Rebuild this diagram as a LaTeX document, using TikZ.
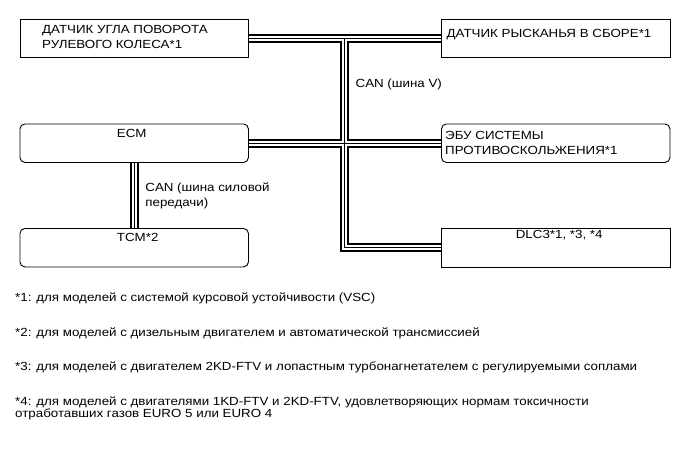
\documentclass[tikz,border=0pt]{standalone}
\usepackage{fontspec}
\setmainfont{Liberation Sans}[FakeStretch=1.13]
\usetikzlibrary{positioning,calc}

\begin{document}
\begin{tikzpicture}[
    x=1pt, y=-1pt,
    every node/.style={inner sep=0pt},
    unit/.style={
        rectangle, draw=black, line width=0.9pt,
        minimum width=228.5pt, minimum height=38.5pt
    },
    ecu/.style={unit, rounded corners=5pt},
    lbl/.style={align=left, font=\fontsize{11.8}{15}\selectfont},
    note/.style={align=left, font=\fontsize{11.8}{12}\selectfont},
    bus/.style={
        draw=black, line width=9pt,
        postaction={draw=white, line width=5pt},
        postaction={draw=black, line width=1pt}
    }
]
\useasboundingbox (0,0) rectangle (691,467);

% блоки
\node[unit, anchor=north west] (steer) at (19.5,18.5) {};
\node[ecu, anchor=north west] (ecm) at (19.5,123.5) {};
\node[ecu, anchor=north west] (tcm) at (19.5,228) {};
\node[unit, anchor=north west] (yaw) at (441,18.5) {};
\node[ecu, anchor=north west] (abs) at (441,123.5) {};
\node[unit, anchor=north west] (dlc) at (441,228) {};

% шины CAN
\coordinate (bustop) at ($(steer.east)!0.5!(yaw.west)$);
\draw[bus] (steer.east) -- (yaw.west)
    (ecm.east) -- (abs.west)
    (bustop) |- (dlc.west);
\draw[bus] (ecm.south) -- (tcm.north);

% надписи блоков (base = последняя строка)
\node[lbl, anchor=base west] (steertxt) at ([xshift=22.5pt,yshift=-30pt]steer.north west)
    {ДАТЧИК УГЛА ПОВОРОТА\\РУЛЕВОГО КОЛЕСА*1};
\node[lbl, anchor=base] (ecmtxt) at ([xshift=-2.5pt,yshift=-14pt]ecm.north) {ECM};
\node[lbl, anchor=base] (tcmtxt) at ([xshift=3.5pt,yshift=-13pt]tcm.north) {TCM*2};
\node[lbl, anchor=base west] (yawtxt) at ([xshift=5.5pt,yshift=-18.5pt]yaw.north west)
    {ДАТЧИК РЫСКАНЬЯ В СБОРЕ*1};
\node[lbl, anchor=base west] (abstxt) at ([xshift=4pt,yshift=-30.5pt]abs.north west)
    {ЭБУ СИСТЕМЫ\\ПРОТИВОСКОЛЬЖЕНИЯ*1};
\node[lbl, anchor=base] (dlctxt) at ([xshift=3.5pt,yshift=-10.5pt]dlc.north) {DLC3*1, *3, *4};

% надписи шин
\node[lbl, anchor=base west] (canv) at ([xshift=10.5pt,yshift=-49.5pt]bustop) {CAN (шина V)};
\node[lbl, anchor=base west] (canp) at ([xshift=11pt,yshift=-44pt]ecm.south)
    {CAN (шина силовой\\передачи)};

% примечания
\node[note, anchor=base west] (n1) at (15,301)
    {*1: для моделей с системой курсовой устойчивости (VSC)};
\node[note, anchor=base west] (n2) at (15,336.5)
    {*2: для моделей с дизельным двигателем и автоматической трансмиссией};
\node[note, anchor=base west] (n3) at (15,370.5)
    {*3: для моделей с двигателем 2KD-FTV и лопастным турбонагнетателем с регулируемыми соплами};
\node[note, anchor=base west] (n4) at (15,417)
    {*4: для моделей с двигателями 1KD-FTV и 2KD-FTV, удовлетворяющих нормам токсичности\\отработавших газов EURO 5 или EURO 4};
\end{tikzpicture}
\end{document}
